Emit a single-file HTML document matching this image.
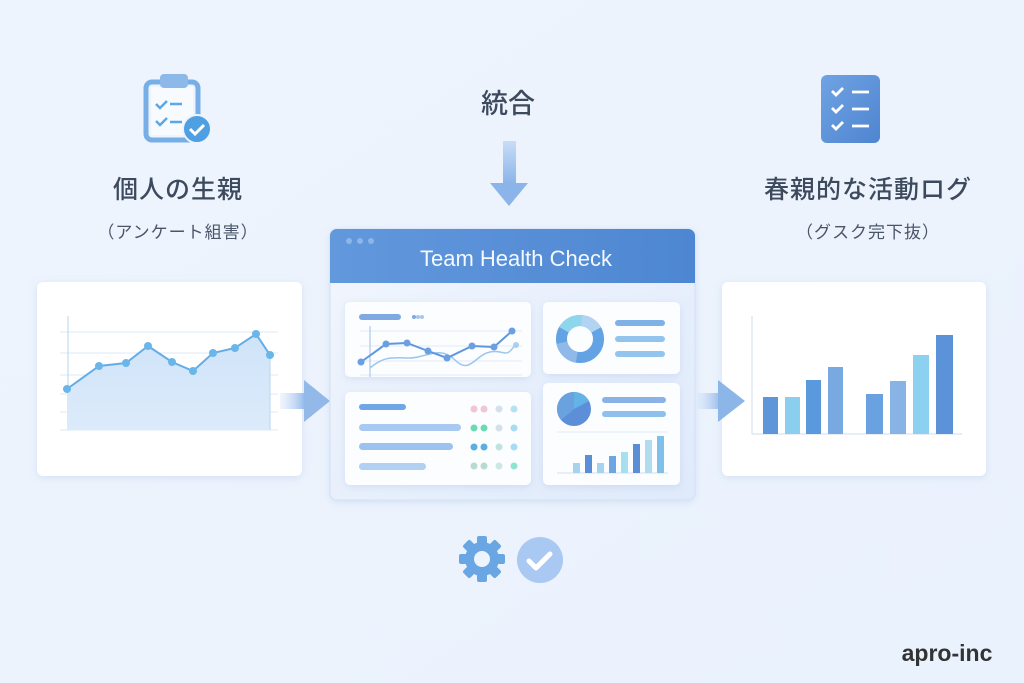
<!DOCTYPE html>
<html><head><meta charset="utf-8"><style>
html,body{margin:0;padding:0;width:1024px;height:683px;overflow:hidden;background:#eef4fd}
svg{display:block}
text{font-family:"Liberation Sans","Noto Sans CJK JP",sans-serif}
</style></head><body>
<svg width="1024" height="683" viewBox="0 0 1024 683" xmlns="http://www.w3.org/2000/svg">
<defs>
<linearGradient id="bg" x1="0" y1="0" x2="1" y2="1"><stop offset="0" stop-color="#eef4fd"/><stop offset="1" stop-color="#eaf2fd"/></linearGradient>
<linearGradient id="hdr" x1="0" y1="0" x2="1" y2="0"><stop offset="0" stop-color="#6298dc"/><stop offset="1" stop-color="#4d86d2"/></linearGradient>
<linearGradient id="win" x1="0" y1="0" x2="1" y2="1"><stop offset="0" stop-color="#f2f6fd"/><stop offset="1" stop-color="#dfeafb"/></linearGradient>
<linearGradient id="arr" x1="0" y1="0" x2="1" y2="0"><stop offset="0" stop-color="#cfe0f8" stop-opacity="0.3"/><stop offset="1" stop-color="#8fb6e8"/></linearGradient>
<linearGradient id="arrd" x1="0" y1="0" x2="0" y2="1"><stop offset="0" stop-color="#c9dcf6"/><stop offset="1" stop-color="#8ab4ea"/></linearGradient>
<linearGradient id="area" x1="0" y1="0" x2="0" y2="1"><stop offset="0" stop-color="#cfe3f8"/><stop offset="1" stop-color="#dcebfb"/></linearGradient>
<linearGradient id="ic" x1="0" y1="0" x2="1" y2="1"><stop offset="0" stop-color="#6fa3e4"/><stop offset="1" stop-color="#4f85d0"/></linearGradient>
<filter id="sh" x="-10%" y="-10%" width="120%" height="130%"><feDropShadow dx="0" dy="2" stdDeviation="4" flood-color="#8aa8d8" flood-opacity="0.25"/></filter>
</defs>
<rect width="1024" height="683" fill="url(#bg)"/>

<rect x="146" y="82" width="52" height="58" rx="6" fill="none" stroke="#78aee6" stroke-width="5"/>
<rect x="151" y="87" width="42" height="48" fill="#f7fafe"/>
<rect x="160" y="74" width="28" height="14" rx="4" fill="#8cb8ea"/>
<path d="M156 104l4 4 7-7" fill="none" stroke="#5ea7e4" stroke-width="2.5"/>
<path d="M170 104h12" stroke="#5ea7e4" stroke-width="2.5"/>
<path d="M156 121l4 4 7-7" fill="none" stroke="#5ea7e4" stroke-width="2.5"/>
<path d="M170 122h12" stroke="#5ea7e4" stroke-width="2.5"/>
<circle cx="197" cy="129" r="14" fill="#4fa0e2" stroke="#eef4fd" stroke-width="2"/>
<path d="M190 129l5 5 9-9" fill="none" stroke="#fff" stroke-width="3"/>

<text x="178" y="198" font-size="25" font-weight="500" fill="#3d4a5e" text-anchor="middle" letter-spacing="1">個人の生親</text>
<text x="178" y="238" font-size="17" fill="#4a5668" text-anchor="middle" letter-spacing="1">（アンケート組害）</text>

<rect x="37" y="282" width="265" height="194" rx="6" fill="#fff" filter="url(#sh)"/>
<g stroke="#dde9f8" stroke-width="1">
<line x1="60" y1="332" x2="278" y2="332"/><line x1="60" y1="353" x2="278" y2="353"/><line x1="60" y1="375" x2="278" y2="375"/><line x1="60" y1="394" x2="278" y2="394"/><line x1="60" y1="412" x2="278" y2="412"/><line x1="60" y1="430" x2="278" y2="430"/>
</g>
<line x1="68" y1="316" x2="68" y2="430" stroke="#b9d4f2"/>
<path d="M67 389L99 366L126 363L148 346L172 362L193 371L213 353L235 348L256 334L270 355L270 430L67 430Z" fill="url(#area)"/>
<line x1="270" y1="355" x2="270" y2="430" stroke="#b9d4f2"/>
<polyline points="67,389 99,366 126,363 148,346 172,362 193,371 213,353 235,348 256,334 270,355" fill="none" stroke="#63ade6" stroke-width="2"/>
<g fill="#6ab6e9"><circle cx="67" cy="389" r="4"/><circle cx="99" cy="366" r="4"/><circle cx="126" cy="363" r="4"/><circle cx="148" cy="346" r="4"/><circle cx="172" cy="362" r="4"/><circle cx="193" cy="371" r="4"/><circle cx="213" cy="353" r="4"/><circle cx="235" cy="348" r="4"/><circle cx="256" cy="334" r="4"/><circle cx="270" cy="355" r="4"/></g>

<rect x="280" y="393" width="26" height="16" fill="url(#arr)"/>
<path d="M304 380L330 401L304 422Z" fill="#93b9e9"/>

<text x="508" y="113" font-size="27" font-weight="500" fill="#3d4a5e" text-anchor="middle">統合</text>
<rect x="503" y="141" width="13" height="43" fill="url(#arrd)"/>
<path d="M490 183L528 183L509 206Z" fill="#8ab4ea"/>

<rect x="330" y="229" width="365" height="271" rx="7" fill="url(#win)" stroke="#d3e1f5" filter="url(#sh)"/>
<path d="M337 229H688A7 7 0 0 1 695 236V283H330V236A7 7 0 0 1 337 229Z" fill="url(#hdr)"/>
<circle cx="349" cy="241" r="3" fill="#8db5ea"/><circle cx="360" cy="241" r="3" fill="#8db5ea"/><circle cx="371" cy="241" r="3" fill="#8db5ea"/>
<text x="516" y="266" font-size="22" fill="#f4f8ff" text-anchor="middle">Team Health Check</text>

<rect x="345" y="302" width="186" height="75" rx="5" fill="#fbfdff" filter="url(#sh)"/>
<rect x="359" y="314" width="42" height="6" rx="3" fill="#7fa9e2"/>
<circle cx="414" cy="317" r="2" fill="#7fa9e2"/><circle cx="418" cy="317" r="2" fill="#a8c6ee"/><circle cx="422" cy="317" r="2" fill="#a8c6ee"/>
<g stroke="#e3ecf9"><line x1="360" y1="331" x2="522" y2="331"/><line x1="360" y1="346" x2="522" y2="346"/><line x1="360" y1="361" x2="522" y2="361"/><line x1="360" y1="375" x2="522" y2="375"/></g>
<line x1="370" y1="326" x2="370" y2="377" stroke="#9fc0ea"/>
<path d="M370 368C385 355 395 358 410 358S440 345 455 360S475 355 490 352S505 360 515 345" fill="none" stroke="#9cc6ec" stroke-width="1.5"/>
<polyline points="361,362 386,344 407,343 428,351 447,358 472,346 494,347 512,331" fill="none" stroke="#5f97de" stroke-width="2"/>
<g fill="#6aa0e2"><circle cx="361" cy="362" r="3.5"/><circle cx="386" cy="344" r="3.5"/><circle cx="407" cy="343" r="3.5"/><circle cx="428" cy="351" r="3.5"/><circle cx="447" cy="358" r="3.5"/><circle cx="472" cy="346" r="3.5"/><circle cx="494" cy="347" r="3.5"/><circle cx="512" cy="331" r="3.5"/><circle cx="516" cy="345" r="3" fill="#a9d0f0"/></g>

<rect x="543" y="302" width="137" height="72" rx="5" fill="#fbfdff" filter="url(#sh)"/>
<circle cx="580" cy="339" r="18.5" fill="none" stroke="#63a3e3" stroke-width="11"/>
<circle cx="580" cy="339" r="18.5" fill="none" stroke="#8ed6ec" stroke-width="11" stroke-dasharray="30 86.2" transform="rotate(-150 580 339)"/>
<circle cx="580" cy="339" r="18.5" fill="none" stroke="#b3d3f3" stroke-width="11" stroke-dasharray="18 98.2" transform="rotate(-85 580 339)"/>
<circle cx="580" cy="339" r="18.5" fill="none" stroke="#8fb9e8" stroke-width="11" stroke-dasharray="22 94.2" transform="rotate(100 580 339)"/>
<rect x="615" y="320" width="50" height="6" rx="3" fill="#7fb0e6"/>
<rect x="615" y="336" width="50" height="6" rx="3" fill="#92c4ee"/>
<rect x="615" y="351" width="50" height="6" rx="3" fill="#92c4ee"/>

<rect x="345" y="392" width="186" height="93" rx="5" fill="#fbfdff" filter="url(#sh)"/>
<rect x="359" y="404" width="47" height="6" rx="3" fill="#6ea6e6"/>
<rect x="359" y="424" width="102" height="7" rx="3.5" fill="#a8c9f2"/>
<rect x="359" y="443" width="94" height="7" rx="3.5" fill="#9cc2f0"/>
<rect x="359" y="463" width="67" height="7" rx="3.5" fill="#b1d0f2"/>
<g><circle cx="474" cy="409" r="3.5" fill="#f0c6d3"/><circle cx="484" cy="409" r="3.5" fill="#f0c6d3"/><circle cx="499" cy="409" r="3.5" fill="#d6e0ea"/><circle cx="514" cy="409" r="3.5" fill="#b6e0f4"/>
<circle cx="474" cy="428" r="3.5" fill="#6cdbb2"/><circle cx="484" cy="428" r="3.5" fill="#6cdbb2"/><circle cx="499" cy="428" r="3.5" fill="#d6e0ea"/><circle cx="514" cy="428" r="3.5" fill="#a6dcf4"/>
<circle cx="474" cy="447" r="3.5" fill="#5aaee4"/><circle cx="484" cy="447" r="3.5" fill="#5aaee4"/><circle cx="499" cy="447" r="3.5" fill="#bfe4e0"/><circle cx="514" cy="447" r="3.5" fill="#a6dcf4"/>
<circle cx="474" cy="466" r="3.5" fill="#b7dccd"/><circle cx="484" cy="466" r="3.5" fill="#b7dccd"/><circle cx="499" cy="466" r="3.5" fill="#cde8e4"/><circle cx="514" cy="466" r="3.5" fill="#90e3d4"/></g>

<rect x="543" y="383" width="137" height="102" rx="5" fill="#fbfdff" filter="url(#sh)"/>
<circle cx="574" cy="409" r="17" fill="#5c8fd8"/>
<path d="M574 409L574 392A17 17 0 0 1 589 401Z" fill="#62b4e6"/>
<path d="M574 409L561 420A17 17 0 0 1 574 392Z" fill="#6aa2e0"/>
<rect x="602" y="397" width="64" height="6" rx="3" fill="#8ab2e6"/>
<rect x="602" y="411" width="64" height="6" rx="3" fill="#8dc0ea"/>
<line x1="557" y1="432" x2="668" y2="432" stroke="#e2ebf8"/>
<line x1="557" y1="473" x2="668" y2="473" stroke="#cfdff4"/>
<rect x="573" y="463" width="7" height="10" fill="#a6d4ef"/>
<rect x="585" y="455" width="7" height="18" fill="#5a8fd8"/>
<rect x="597" y="463" width="7" height="10" fill="#a6d4ef"/>
<rect x="609" y="456" width="7" height="17" fill="#6ea6e4"/>
<rect x="621" y="452" width="7" height="21" fill="#a6e0ef"/>
<rect x="633" y="444" width="7" height="29" fill="#5a8fd8"/>
<rect x="645" y="440" width="7" height="33" fill="#b1dcef"/>
<rect x="657" y="436" width="7" height="37" fill="#7fc0ea"/>

<rect x="821" y="75" width="59" height="68" rx="6" fill="url(#ic)"/>
<g fill="none" stroke="#fff" stroke-width="2.8">
<path d="M832 91l4 4 7-7"/><path d="M852 92h17"/>
<path d="M832 108l4 4 7-7"/><path d="M852 109h17"/>
<path d="M832 125l4 4 7-7"/><path d="M852 126h17"/>
</g>
<text x="868" y="198" font-size="25" font-weight="500" fill="#3d4a5e" text-anchor="middle" letter-spacing="1">春親的な活動ログ</text>
<text x="868" y="238" font-size="17" fill="#4a5668" text-anchor="middle" letter-spacing="1">（グスク完下抜）</text>

<rect x="722" y="282" width="264" height="194" rx="6" fill="#fff" filter="url(#sh)"/>
<line x1="752" y1="316" x2="752" y2="434" stroke="#d0def2"/>
<line x1="752" y1="434" x2="962" y2="434" stroke="#d0def2"/>
<rect x="763" y="397" width="15" height="37" fill="#5f95d9"/>
<rect x="785" y="397" width="15" height="37" fill="#8bcfee"/>
<rect x="806" y="380" width="15" height="54" fill="#5a99dc"/>
<rect x="828" y="367" width="15" height="67" fill="#78a9e0"/>
<rect x="866" y="394" width="17" height="40" fill="#6aa1e0"/>
<rect x="890" y="381" width="16" height="53" fill="#89b3e4"/>
<rect x="913" y="355" width="16" height="79" fill="#8cd2f0"/>
<rect x="936" y="335" width="17" height="99" fill="#5b92d8"/>

<!-- Right arrow on top of card -->
<rect x="697" y="393" width="25" height="16" fill="url(#arr)"/>
<path d="M718 380L745 401L718 422Z" fill="#8cb5e8"/>

<g transform="translate(482 559)" fill="#6aa6e4">
<circle r="17"/>
<g><rect x="-5" y="-23" width="10" height="10" rx="2"/><rect x="-5" y="-23" width="10" height="10" rx="2" transform="rotate(45)"/><rect x="-5" y="-23" width="10" height="10" rx="2" transform="rotate(90)"/><rect x="-5" y="-23" width="10" height="10" rx="2" transform="rotate(135)"/><rect x="-5" y="-23" width="10" height="10" rx="2" transform="rotate(180)"/><rect x="-5" y="-23" width="10" height="10" rx="2" transform="rotate(225)"/><rect x="-5" y="-23" width="10" height="10" rx="2" transform="rotate(270)"/><rect x="-5" y="-23" width="10" height="10" rx="2" transform="rotate(315)"/></g>
<circle r="8" fill="#eef4fd"/>
</g>
<circle cx="540" cy="560" r="23" fill="#a9c9f2"/>
<path d="M529 561l7 7 14-14" fill="none" stroke="#fff" stroke-width="5" stroke-linecap="round" stroke-linejoin="round"/>

<text x="947" y="661" font-size="23" font-weight="bold" fill="#333" text-anchor="middle">apro-inc</text>
</svg>
</body></html>
